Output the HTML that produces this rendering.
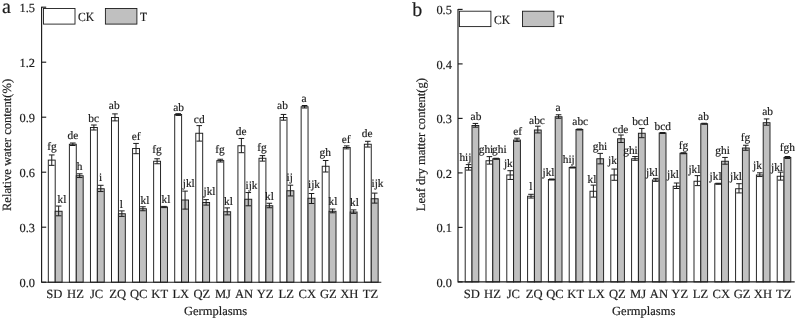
<!DOCTYPE html>
<html><head><meta charset="utf-8"><title>Figure</title>
<style>
html,body{margin:0;padding:0;background:#fff;}
body{width:796px;height:320px;overflow:hidden;font-family:"Liberation Serif",serif;}
svg{display:block;will-change:transform;opacity:0.999}
svg text{font-family:"Liberation Serif",serif;fill:#1c1c1c;text-rendering:geometricPrecision;stroke:#1c1c1c;stroke-width:0.18px;}
</style></head><body>
<svg width="796" height="320" viewBox="0 0 796 320">
<rect width="796" height="320" fill="#fff"/>
<rect x="48.3" y="160.1" width="6.9" height="122.1" fill="#ffffff" stroke="#1c1c1c" stroke-width="0.95"/>
<path d="M51.75 154.95V165.35M48.95 154.95H54.55M48.95 165.35H54.55" stroke="#1c1c1c" stroke-width="1.0" fill="none"/>
<rect x="55.2" y="211.25" width="6.9" height="70.95" fill="#c0c0c0" stroke="#1c1c1c" stroke-width="0.95"/>
<path d="M58.65 206.06V215.81M55.85 206.06H61.45M55.85 215.81H61.45" stroke="#1c1c1c" stroke-width="1.0" fill="none"/>
<rect x="69.37" y="144.25" width="6.9" height="137.95" fill="#ffffff" stroke="#1c1c1c" stroke-width="0.95"/>
<path d="M72.82 143V145.5M70.02 143H75.62M70.02 145.5H75.62" stroke="#1c1c1c" stroke-width="1.0" fill="none"/>
<rect x="76.27" y="175.75" width="6.9" height="106.45" fill="#c0c0c0" stroke="#1c1c1c" stroke-width="0.95"/>
<path d="M79.72 173.81V177.56M76.92 173.81H82.52M76.92 177.56H82.52" stroke="#1c1c1c" stroke-width="1.0" fill="none"/>
<rect x="90.44" y="127.5" width="6.9" height="154.7" fill="#ffffff" stroke="#1c1c1c" stroke-width="0.95"/>
<path d="M93.89 125V130M91.09 125H96.69M91.09 130H96.69" stroke="#1c1c1c" stroke-width="1.0" fill="none"/>
<rect x="97.34" y="188.75" width="6.9" height="93.45" fill="#c0c0c0" stroke="#1c1c1c" stroke-width="0.95"/>
<path d="M100.79 185.31V191.56M97.99 185.31H103.59M97.99 191.56H103.59" stroke="#1c1c1c" stroke-width="1.0" fill="none"/>
<rect x="111.51" y="117.5" width="6.9" height="164.7" fill="#ffffff" stroke="#1c1c1c" stroke-width="0.95"/>
<path d="M114.96 113.88V120.88M112.16 113.88H117.76M112.16 120.88H117.76" stroke="#1c1c1c" stroke-width="1.0" fill="none"/>
<rect x="118.41" y="213.75" width="6.9" height="68.45" fill="#c0c0c0" stroke="#1c1c1c" stroke-width="0.95"/>
<path d="M121.86 210.88V216.38M119.06 210.88H124.66M119.06 216.38H124.66" stroke="#1c1c1c" stroke-width="1.0" fill="none"/>
<rect x="132.58" y="148.5" width="6.9" height="133.7" fill="#ffffff" stroke="#1c1c1c" stroke-width="0.95"/>
<path d="M136.03 143.44V153.69M133.23 143.44H138.83M133.23 153.69H138.83" stroke="#1c1c1c" stroke-width="1.0" fill="none"/>
<rect x="139.48" y="208.75" width="6.9" height="73.45" fill="#c0c0c0" stroke="#1c1c1c" stroke-width="0.95"/>
<path d="M142.93 206.75V210.75M140.13 206.75H145.73M140.13 210.75H145.73" stroke="#1c1c1c" stroke-width="1.0" fill="none"/>
<rect x="153.65" y="161.25" width="6.9" height="120.95" fill="#ffffff" stroke="#1c1c1c" stroke-width="0.95"/>
<path d="M157.1 158.75V163.75M154.3 158.75H159.9M154.3 163.75H159.9" stroke="#1c1c1c" stroke-width="1.0" fill="none"/>
<rect x="160.55" y="207" width="6.9" height="75.2" fill="#c0c0c0" stroke="#1c1c1c" stroke-width="0.95"/>
<path d="M164 206.4V207.6M161.2 206.4H166.8M161.2 207.6H166.8" stroke="#1c1c1c" stroke-width="1.0" fill="none"/>
<rect x="174.72" y="114.5" width="6.9" height="167.7" fill="#ffffff" stroke="#1c1c1c" stroke-width="0.95"/>
<path d="M178.17 113.69V115.44M175.37 113.69H180.97M175.37 115.44H180.97" stroke="#1c1c1c" stroke-width="1.0" fill="none"/>
<rect x="181.62" y="200" width="6.9" height="82.2" fill="#c0c0c0" stroke="#1c1c1c" stroke-width="0.95"/>
<path d="M185.07 191.12V209.12M182.27 191.12H187.87M182.27 209.12H187.87" stroke="#1c1c1c" stroke-width="1.0" fill="none"/>
<rect x="195.79" y="133.25" width="6.9" height="148.95" fill="#ffffff" stroke="#1c1c1c" stroke-width="0.95"/>
<path d="M199.24 125.62V141.12M196.44 125.62H202.04M196.44 141.12H202.04" stroke="#1c1c1c" stroke-width="1.0" fill="none"/>
<rect x="202.69" y="202.5" width="6.9" height="79.7" fill="#c0c0c0" stroke="#1c1c1c" stroke-width="0.95"/>
<path d="M206.14 199.62V205.12M203.34 199.62H208.94M203.34 205.12H208.94" stroke="#1c1c1c" stroke-width="1.0" fill="none"/>
<rect x="216.86" y="160.6" width="6.9" height="121.6" fill="#ffffff" stroke="#1c1c1c" stroke-width="0.95"/>
<path d="M220.31 159.24V161.99M217.51 159.24H223.11M217.51 161.99H223.11" stroke="#1c1c1c" stroke-width="1.0" fill="none"/>
<rect x="223.76" y="211.75" width="6.9" height="70.45" fill="#c0c0c0" stroke="#1c1c1c" stroke-width="0.95"/>
<path d="M227.21 207.88V214.88M224.41 207.88H230.01M224.41 214.88H230.01" stroke="#1c1c1c" stroke-width="1.0" fill="none"/>
<rect x="237.93" y="145.75" width="6.9" height="136.45" fill="#ffffff" stroke="#1c1c1c" stroke-width="0.95"/>
<path d="M241.38 138.44V152.69M238.58 138.44H244.18M238.58 152.69H244.18" stroke="#1c1c1c" stroke-width="1.0" fill="none"/>
<rect x="244.83" y="199.25" width="6.9" height="82.95" fill="#c0c0c0" stroke="#1c1c1c" stroke-width="0.95"/>
<path d="M248.28 192.56V205.81M245.48 192.56H251.08M245.48 205.81H251.08" stroke="#1c1c1c" stroke-width="1.0" fill="none"/>
<rect x="259" y="158.25" width="6.9" height="123.95" fill="#ffffff" stroke="#1c1c1c" stroke-width="0.95"/>
<path d="M262.45 155.62V161.12M259.65 155.62H265.25M259.65 161.12H265.25" stroke="#1c1c1c" stroke-width="1.0" fill="none"/>
<rect x="265.9" y="205.75" width="6.9" height="76.45" fill="#c0c0c0" stroke="#1c1c1c" stroke-width="0.95"/>
<path d="M269.35 203.25V207.75M266.55 203.25H272.15M266.55 207.75H272.15" stroke="#1c1c1c" stroke-width="1.0" fill="none"/>
<rect x="280.07" y="117.5" width="6.9" height="164.7" fill="#ffffff" stroke="#1c1c1c" stroke-width="0.95"/>
<path d="M283.52 114.44V120.19M280.72 114.44H286.32M280.72 120.19H286.32" stroke="#1c1c1c" stroke-width="1.0" fill="none"/>
<rect x="286.97" y="190.75" width="6.9" height="91.45" fill="#c0c0c0" stroke="#1c1c1c" stroke-width="0.95"/>
<path d="M290.42 185.19V195.94M287.62 185.19H293.22M287.62 195.94H293.22" stroke="#1c1c1c" stroke-width="1.0" fill="none"/>
<rect x="301.14" y="106.75" width="6.9" height="175.45" fill="#ffffff" stroke="#1c1c1c" stroke-width="0.95"/>
<path d="M304.59 105.5V108M301.79 105.5H307.39M301.79 108H307.39" stroke="#1c1c1c" stroke-width="1.0" fill="none"/>
<rect x="308.04" y="198.25" width="6.9" height="83.95" fill="#c0c0c0" stroke="#1c1c1c" stroke-width="0.95"/>
<path d="M311.49 193.5V203.5M308.69 193.5H314.29M308.69 203.5H314.29" stroke="#1c1c1c" stroke-width="1.0" fill="none"/>
<rect x="322.21" y="166.25" width="6.9" height="115.95" fill="#ffffff" stroke="#1c1c1c" stroke-width="0.95"/>
<path d="M325.66 160.5V172M322.86 160.5H328.46M322.86 172H328.46" stroke="#1c1c1c" stroke-width="1.0" fill="none"/>
<rect x="329.11" y="211.25" width="6.9" height="70.95" fill="#c0c0c0" stroke="#1c1c1c" stroke-width="0.95"/>
<path d="M332.56 209.06V212.81M329.76 209.06H335.36M329.76 212.81H335.36" stroke="#1c1c1c" stroke-width="1.0" fill="none"/>
<rect x="343.28" y="147.5" width="6.9" height="134.7" fill="#ffffff" stroke="#1c1c1c" stroke-width="0.95"/>
<path d="M346.73 145.88V148.88M343.93 145.88H349.53M343.93 148.88H349.53" stroke="#1c1c1c" stroke-width="1.0" fill="none"/>
<rect x="350.18" y="212" width="6.9" height="70.2" fill="#c0c0c0" stroke="#1c1c1c" stroke-width="0.95"/>
<path d="M353.63 209.88V213.38M350.83 209.88H356.43M350.83 213.38H356.43" stroke="#1c1c1c" stroke-width="1.0" fill="none"/>
<rect x="364.35" y="144.25" width="6.9" height="137.95" fill="#ffffff" stroke="#1c1c1c" stroke-width="0.95"/>
<path d="M367.8 141.31V147.06M365 141.31H370.6M365 147.06H370.6" stroke="#1c1c1c" stroke-width="1.0" fill="none"/>
<rect x="371.25" y="198.75" width="6.9" height="83.45" fill="#c0c0c0" stroke="#1c1c1c" stroke-width="0.95"/>
<path d="M374.7 193.12V203.12M371.9 193.12H377.5M371.9 203.12H377.5" stroke="#1c1c1c" stroke-width="1.0" fill="none"/>
<path d="M41.6 6.7V282.2H381.3" stroke="#1c1c1c" stroke-width="1.15" fill="none" stroke-linejoin="miter"/>
<path d="M41.6 282.2h4.6" stroke="#1c1c1c" stroke-width="1.15"/>
<text x="35" y="287.2" font-size="12.4" text-anchor="end">0.0</text>
<path d="M41.6 227.2h4.6" stroke="#1c1c1c" stroke-width="1.15"/>
<text x="35" y="232.2" font-size="12.4" text-anchor="end">0.3</text>
<path d="M41.6 172.2h4.6" stroke="#1c1c1c" stroke-width="1.15"/>
<text x="35" y="177.2" font-size="12.4" text-anchor="end">0.6</text>
<path d="M41.6 117.2h4.6" stroke="#1c1c1c" stroke-width="1.15"/>
<text x="35" y="122.2" font-size="12.4" text-anchor="end">0.9</text>
<path d="M41.6 62.2h4.6" stroke="#1c1c1c" stroke-width="1.15"/>
<text x="35" y="67.2" font-size="12.4" text-anchor="end">1.2</text>
<path d="M41.6 7.2h4.6" stroke="#1c1c1c" stroke-width="1.15"/>
<text x="35" y="12.2" font-size="12.4" text-anchor="end">1.5</text>
<text x="54.4" y="297.5" font-size="12.6" text-anchor="middle">SD</text>
<text x="75.47" y="297.5" font-size="12.6" text-anchor="middle">HZ</text>
<text x="96.54" y="297.5" font-size="12.6" text-anchor="middle">JC</text>
<text x="117.61" y="297.5" font-size="12.6" text-anchor="middle">ZQ</text>
<text x="138.68" y="297.5" font-size="12.6" text-anchor="middle">QC</text>
<text x="159.75" y="297.5" font-size="12.6" text-anchor="middle">KT</text>
<text x="180.82" y="297.5" font-size="12.6" text-anchor="middle">LX</text>
<text x="201.89" y="297.5" font-size="12.6" text-anchor="middle">QZ</text>
<text x="222.96" y="297.5" font-size="12.6" text-anchor="middle">MJ</text>
<text x="244.03" y="297.5" font-size="12.6" text-anchor="middle">AN</text>
<text x="265.1" y="297.5" font-size="12.6" text-anchor="middle">YZ</text>
<text x="286.17" y="297.5" font-size="12.6" text-anchor="middle">LZ</text>
<text x="307.24" y="297.5" font-size="12.6" text-anchor="middle">CX</text>
<text x="328.31" y="297.5" font-size="12.6" text-anchor="middle">GZ</text>
<text x="349.38" y="297.5" font-size="12.6" text-anchor="middle">XH</text>
<text x="370.45" y="297.5" font-size="12.6" text-anchor="middle">TZ</text>
<text x="215.6" y="314.6" font-size="12.5" text-anchor="middle">Germplasms</text>
<text transform="translate(11.3 145) rotate(-90)" font-size="12.6" text-anchor="middle">Relative water content(%)</text>
<text x="2" y="12.6" font-size="20">a</text>
<rect x="43.5" y="8.5" width="31.5" height="15.6" fill="#fff" stroke="#1c1c1c" stroke-width="0.9"/>
<text transform="translate(78 21) scale(0.93 1)" font-size="12.5">CK</text>
<rect x="105.4" y="8.5" width="31.5" height="15.6" fill="#c0c0c0" stroke="#1c1c1c" stroke-width="0.9"/>
<text transform="translate(139.9 21) scale(0.93 1)" font-size="12.5">T</text>
<text x="52" y="150.4" font-size="11.4" text-anchor="middle">fg</text>
<text x="73" y="138.8" font-size="11.4" text-anchor="middle">de</text>
<text x="93.75" y="122" font-size="11.4" text-anchor="middle">bc</text>
<text x="114.25" y="108.75" font-size="11.4" text-anchor="middle">ab</text>
<text x="136.25" y="140" font-size="11.4" text-anchor="middle">ef</text>
<text x="157" y="153.3" font-size="11.4" text-anchor="middle">fg</text>
<text x="178.7" y="111.25" font-size="11.4" text-anchor="middle">ab</text>
<text x="199.25" y="123.25" font-size="11.4" text-anchor="middle">cd</text>
<text x="220" y="153.3" font-size="11.4" text-anchor="middle">fg</text>
<text x="241.25" y="135" font-size="11.4" text-anchor="middle">de</text>
<text x="262" y="150.5" font-size="11.4" text-anchor="middle">fg</text>
<text x="282.5" y="109.25" font-size="11.4" text-anchor="middle">ab</text>
<text x="304" y="102" font-size="11.4" text-anchor="middle">a</text>
<text x="325.25" y="155.7" font-size="11.4" text-anchor="middle">gh</text>
<text x="346.25" y="142.5" font-size="11.4" text-anchor="middle">ef</text>
<text x="367.25" y="137" font-size="11.4" text-anchor="middle">de</text>
<text x="62" y="203" font-size="11.4" text-anchor="middle">kl</text>
<text x="79.5" y="170" font-size="11.4" text-anchor="middle">h</text>
<text x="100.5" y="181.25" font-size="11.4" text-anchor="middle">i</text>
<text x="121.25" y="207.5" font-size="11.4" text-anchor="middle">l</text>
<text x="145" y="204.25" font-size="11.4" text-anchor="middle">kl</text>
<text x="166" y="202.5" font-size="11.4" text-anchor="middle">kl</text>
<text x="188.75" y="187" font-size="11.4" text-anchor="middle">jkl</text>
<text x="209.5" y="195" font-size="11.4" text-anchor="middle">jkl</text>
<text x="228.5" y="205" font-size="11.4" text-anchor="middle">kl</text>
<text x="251.5" y="188.75" font-size="11.4" text-anchor="middle">ijk</text>
<text x="269.5" y="200" font-size="11.4" text-anchor="middle">kl</text>
<text x="289.75" y="181.25" font-size="11.4" text-anchor="middle">ij</text>
<text x="314" y="188.25" font-size="11.4" text-anchor="middle">ijk</text>
<text x="333" y="205" font-size="11.4" text-anchor="middle">kl</text>
<text x="354.5" y="205.75" font-size="11.4" text-anchor="middle">kl</text>
<text x="377.5" y="186.75" font-size="11.4" text-anchor="middle">ijk</text>
<rect x="465.2" y="167.5" width="6.8" height="114.4" fill="#ffffff" stroke="#1c1c1c" stroke-width="0.95"/>
<path d="M468.6 164.62V170.12M465.8 164.62H471.4M465.8 170.12H471.4" stroke="#1c1c1c" stroke-width="1.0" fill="none"/>
<rect x="472" y="125.5" width="6.8" height="156.4" fill="#c0c0c0" stroke="#1c1c1c" stroke-width="0.95"/>
<path d="M475.4 123.44V127.19M472.6 123.44H478.2M472.6 127.19H478.2" stroke="#1c1c1c" stroke-width="1.0" fill="none"/>
<rect x="486" y="160.75" width="6.8" height="121.15" fill="#ffffff" stroke="#1c1c1c" stroke-width="0.95"/>
<path d="M489.4 156.62V164.12M486.6 156.62H492.2M486.6 164.12H492.2" stroke="#1c1c1c" stroke-width="1.0" fill="none"/>
<rect x="492.8" y="158.75" width="6.8" height="123.15" fill="#c0c0c0" stroke="#1c1c1c" stroke-width="0.95"/>
<path d="M496.2 158.25V159.25M493.4 158.25H499M493.4 159.25H499" stroke="#1c1c1c" stroke-width="1.0" fill="none"/>
<rect x="506.8" y="175" width="6.8" height="106.9" fill="#ffffff" stroke="#1c1c1c" stroke-width="0.95"/>
<path d="M510.2 170.69V179.44M507.4 170.69H513M507.4 179.44H513" stroke="#1c1c1c" stroke-width="1.0" fill="none"/>
<rect x="513.6" y="140" width="6.8" height="141.9" fill="#c0c0c0" stroke="#1c1c1c" stroke-width="0.95"/>
<path d="M517 138.19V141.44M514.2 138.19H519.8M514.2 141.44H519.8" stroke="#1c1c1c" stroke-width="1.0" fill="none"/>
<rect x="527.6" y="196.25" width="6.8" height="85.65" fill="#ffffff" stroke="#1c1c1c" stroke-width="0.95"/>
<path d="M531 194.31V198.06M528.2 194.31H533.8M528.2 198.06H533.8" stroke="#1c1c1c" stroke-width="1.0" fill="none"/>
<rect x="534.4" y="130" width="6.8" height="151.9" fill="#c0c0c0" stroke="#1c1c1c" stroke-width="0.95"/>
<path d="M537.8 126.19V132.94M535 126.19H540.6M535 132.94H540.6" stroke="#1c1c1c" stroke-width="1.0" fill="none"/>
<rect x="548.4" y="179.5" width="6.8" height="102.4" fill="#ffffff" stroke="#1c1c1c" stroke-width="0.95"/>
<path d="M551.8 179V180M549 179H554.6M549 180H554.6" stroke="#1c1c1c" stroke-width="1.0" fill="none"/>
<rect x="555.2" y="116.75" width="6.8" height="165.15" fill="#c0c0c0" stroke="#1c1c1c" stroke-width="0.95"/>
<path d="M558.6 114.75V118.25M555.8 114.75H561.4M555.8 118.25H561.4" stroke="#1c1c1c" stroke-width="1.0" fill="none"/>
<rect x="569.2" y="167.5" width="6.8" height="114.4" fill="#ffffff" stroke="#1c1c1c" stroke-width="0.95"/>
<path d="M572.6 167V168M569.8 167H575.4M569.8 168H575.4" stroke="#1c1c1c" stroke-width="1.0" fill="none"/>
<rect x="576" y="129.5" width="6.8" height="152.4" fill="#c0c0c0" stroke="#1c1c1c" stroke-width="0.95"/>
<path d="M579.4 129V130M576.6 129H582.2M576.6 130H582.2" stroke="#1c1c1c" stroke-width="1.0" fill="none"/>
<rect x="590" y="191.25" width="6.8" height="90.65" fill="#ffffff" stroke="#1c1c1c" stroke-width="0.95"/>
<path d="M593.4 185.12V197.12M590.6 185.12H596.2M590.6 197.12H596.2" stroke="#1c1c1c" stroke-width="1.0" fill="none"/>
<rect x="596.8" y="158.75" width="6.8" height="123.15" fill="#c0c0c0" stroke="#1c1c1c" stroke-width="0.95"/>
<path d="M600.2 153.38V163.88M597.4 153.38H603M597.4 163.88H603" stroke="#1c1c1c" stroke-width="1.0" fill="none"/>
<rect x="610.8" y="175" width="6.8" height="106.9" fill="#ffffff" stroke="#1c1c1c" stroke-width="0.95"/>
<path d="M614.2 169.06V180.31M611.4 169.06H617M611.4 180.31H617" stroke="#1c1c1c" stroke-width="1.0" fill="none"/>
<rect x="617.6" y="138.75" width="6.8" height="143.15" fill="#c0c0c0" stroke="#1c1c1c" stroke-width="0.95"/>
<path d="M621 135V142.5M618.2 135H623.8M618.2 142.5H623.8" stroke="#1c1c1c" stroke-width="1.0" fill="none"/>
<rect x="631.6" y="158.75" width="6.8" height="123.15" fill="#ffffff" stroke="#1c1c1c" stroke-width="0.95"/>
<path d="M635 156.56V160.31M632.2 156.56H637.8M632.2 160.31H637.8" stroke="#1c1c1c" stroke-width="1.0" fill="none"/>
<rect x="638.4" y="133.25" width="6.8" height="148.65" fill="#c0c0c0" stroke="#1c1c1c" stroke-width="0.95"/>
<path d="M641.8 128.44V137.69M639 128.44H644.6M639 137.69H644.6" stroke="#1c1c1c" stroke-width="1.0" fill="none"/>
<rect x="652.4" y="180" width="6.8" height="101.9" fill="#ffffff" stroke="#1c1c1c" stroke-width="0.95"/>
<path d="M655.8 178.38V181.38M653 178.38H658.6M653 181.38H658.6" stroke="#1c1c1c" stroke-width="1.0" fill="none"/>
<rect x="659.2" y="133" width="6.8" height="148.9" fill="#c0c0c0" stroke="#1c1c1c" stroke-width="0.95"/>
<path d="M662.6 132.5V133.5M659.8 132.5H665.4M659.8 133.5H665.4" stroke="#1c1c1c" stroke-width="1.0" fill="none"/>
<rect x="673.2" y="186.25" width="6.8" height="95.65" fill="#ffffff" stroke="#1c1c1c" stroke-width="0.95"/>
<path d="M676.6 183V188.5M673.8 183H679.4M673.8 188.5H679.4" stroke="#1c1c1c" stroke-width="1.0" fill="none"/>
<rect x="680" y="153.25" width="6.8" height="128.65" fill="#c0c0c0" stroke="#1c1c1c" stroke-width="0.95"/>
<path d="M683.4 152.75V153.75M680.6 152.75H686.2M680.6 153.75H686.2" stroke="#1c1c1c" stroke-width="1.0" fill="none"/>
<rect x="694" y="181.25" width="6.8" height="100.65" fill="#ffffff" stroke="#1c1c1c" stroke-width="0.95"/>
<path d="M697.4 175.62V185.62M694.6 175.62H700.2M694.6 185.62H700.2" stroke="#1c1c1c" stroke-width="1.0" fill="none"/>
<rect x="700.8" y="123.75" width="6.8" height="158.15" fill="#c0c0c0" stroke="#1c1c1c" stroke-width="0.95"/>
<path d="M704.2 123.25V124.25M701.4 123.25H707M701.4 124.25H707" stroke="#1c1c1c" stroke-width="1.0" fill="none"/>
<rect x="714.8" y="183.75" width="6.8" height="98.15" fill="#ffffff" stroke="#1c1c1c" stroke-width="0.95"/>
<path d="M718.2 183.25V184.25M715.4 183.25H721M715.4 184.25H721" stroke="#1c1c1c" stroke-width="1.0" fill="none"/>
<rect x="721.6" y="161.25" width="6.8" height="120.65" fill="#c0c0c0" stroke="#1c1c1c" stroke-width="0.95"/>
<path d="M725 157.44V164.19M722.2 157.44H727.8M722.2 164.19H727.8" stroke="#1c1c1c" stroke-width="1.0" fill="none"/>
<rect x="735.6" y="188.75" width="6.8" height="93.15" fill="#ffffff" stroke="#1c1c1c" stroke-width="0.95"/>
<path d="M739 183.69V192.94M736.2 183.69H741.8M736.2 192.94H741.8" stroke="#1c1c1c" stroke-width="1.0" fill="none"/>
<rect x="742.4" y="148" width="6.8" height="133.9" fill="#c0c0c0" stroke="#1c1c1c" stroke-width="0.95"/>
<path d="M745.8 145.25V150.25M743 145.25H748.6M743 150.25H748.6" stroke="#1c1c1c" stroke-width="1.0" fill="none"/>
<rect x="756.4" y="175" width="6.8" height="106.9" fill="#ffffff" stroke="#1c1c1c" stroke-width="0.95"/>
<path d="M759.8 172.81V176.56M757 172.81H762.6M757 176.56H762.6" stroke="#1c1c1c" stroke-width="1.0" fill="none"/>
<rect x="763.2" y="122.7" width="6.8" height="159.2" fill="#c0c0c0" stroke="#1c1c1c" stroke-width="0.95"/>
<path d="M766.6 118.93V125.22M763.8 118.93H769.4M763.8 125.22H769.4" stroke="#1c1c1c" stroke-width="1.0" fill="none"/>
<rect x="777.2" y="176.25" width="6.8" height="105.65" fill="#ffffff" stroke="#1c1c1c" stroke-width="0.95"/>
<path d="M780.6 172.12V180.12M777.8 172.12H783.4M777.8 180.12H783.4" stroke="#1c1c1c" stroke-width="1.0" fill="none"/>
<rect x="784" y="157.5" width="6.8" height="124.4" fill="#c0c0c0" stroke="#1c1c1c" stroke-width="0.95"/>
<path d="M787.4 156.5V158.5M784.6 156.5H790.2M784.6 158.5H790.2" stroke="#1c1c1c" stroke-width="1.0" fill="none"/>
<path d="M458 8.9V281.9H794.7" stroke="#1c1c1c" stroke-width="1.15" fill="none" stroke-linejoin="miter"/>
<path d="M458 281.9h4.6" stroke="#1c1c1c" stroke-width="1.15"/>
<text x="451.9" y="286.9" font-size="12.4" text-anchor="end">0.0</text>
<path d="M458 227.4h4.6" stroke="#1c1c1c" stroke-width="1.15"/>
<text x="451.9" y="232.4" font-size="12.4" text-anchor="end">0.1</text>
<path d="M458 172.9h4.6" stroke="#1c1c1c" stroke-width="1.15"/>
<text x="451.9" y="177.9" font-size="12.4" text-anchor="end">0.2</text>
<path d="M458 118.4h4.6" stroke="#1c1c1c" stroke-width="1.15"/>
<text x="451.9" y="123.4" font-size="12.4" text-anchor="end">0.3</text>
<path d="M458 63.9h4.6" stroke="#1c1c1c" stroke-width="1.15"/>
<text x="451.9" y="68.9" font-size="12.4" text-anchor="end">0.4</text>
<path d="M458 9.4h4.6" stroke="#1c1c1c" stroke-width="1.15"/>
<text x="451.9" y="14.4" font-size="12.4" text-anchor="end">0.5</text>
<text x="471.7" y="297.5" font-size="12.6" text-anchor="middle">SD</text>
<text x="492.5" y="297.5" font-size="12.6" text-anchor="middle">HZ</text>
<text x="513.3" y="297.5" font-size="12.6" text-anchor="middle">JC</text>
<text x="534.1" y="297.5" font-size="12.6" text-anchor="middle">ZQ</text>
<text x="554.9" y="297.5" font-size="12.6" text-anchor="middle">QC</text>
<text x="575.7" y="297.5" font-size="12.6" text-anchor="middle">KT</text>
<text x="596.5" y="297.5" font-size="12.6" text-anchor="middle">LX</text>
<text x="617.3" y="297.5" font-size="12.6" text-anchor="middle">QZ</text>
<text x="638.1" y="297.5" font-size="12.6" text-anchor="middle">MJ</text>
<text x="658.9" y="297.5" font-size="12.6" text-anchor="middle">AN</text>
<text x="679.7" y="297.5" font-size="12.6" text-anchor="middle">YZ</text>
<text x="700.5" y="297.5" font-size="12.6" text-anchor="middle">LZ</text>
<text x="721.3" y="297.5" font-size="12.6" text-anchor="middle">CX</text>
<text x="742.1" y="297.5" font-size="12.6" text-anchor="middle">GZ</text>
<text x="762.9" y="297.5" font-size="12.6" text-anchor="middle">XH</text>
<text x="783.7" y="297.5" font-size="12.6" text-anchor="middle">TZ</text>
<text x="643.7" y="314.6" font-size="12.5" text-anchor="middle">Germplasms</text>
<text transform="translate(425 144.6) rotate(-90)" font-size="12.6" text-anchor="middle">Leaf dry matter content(g)</text>
<text x="412.2" y="15.7" font-size="20">b</text>
<rect x="459.4" y="11.2" width="31.5" height="15.4" fill="#fff" stroke="#1c1c1c" stroke-width="0.9"/>
<text transform="translate(493.9 23.6) scale(0.93 1)" font-size="12.5">CK</text>
<rect x="522.5" y="11.2" width="31.4" height="15.4" fill="#c0c0c0" stroke="#1c1c1c" stroke-width="0.9"/>
<text transform="translate(556.9 23.6) scale(0.93 1)" font-size="12.5">T</text>
<text x="465.4" y="160.75" font-size="11.4" text-anchor="middle">hij</text>
<text x="486" y="153" font-size="11.4" text-anchor="middle">ghi</text>
<text x="508.4" y="167.3" font-size="11.4" text-anchor="middle">jk</text>
<text x="530.75" y="190" font-size="11.4" text-anchor="middle">l</text>
<text x="548.5" y="175.5" font-size="11.4" text-anchor="middle">jkl</text>
<text x="568.75" y="162.5" font-size="11.4" text-anchor="middle">hij</text>
<text x="592" y="182.5" font-size="11.4" text-anchor="middle">kl</text>
<text x="612.5" y="163.75" font-size="11.4" text-anchor="middle">jk</text>
<text x="630.5" y="154" font-size="11.4" text-anchor="middle">ghi</text>
<text x="652" y="176.25" font-size="11.4" text-anchor="middle">jkl</text>
<text x="673" y="178.25" font-size="11.4" text-anchor="middle">jkl</text>
<text x="694.4" y="172.5" font-size="11.4" text-anchor="middle">jkl</text>
<text x="715.6" y="179.5" font-size="11.4" text-anchor="middle">jkl</text>
<text x="736" y="179.5" font-size="11.4" text-anchor="middle">jkl</text>
<text x="757.5" y="168.75" font-size="11.4" text-anchor="middle">jk</text>
<text x="777" y="170.75" font-size="11.4" text-anchor="middle">jkl</text>
<text x="476" y="120.4" font-size="11.4" text-anchor="middle">ab</text>
<text x="499.4" y="153" font-size="11.4" text-anchor="middle">ghi</text>
<text x="517.75" y="135" font-size="11.4" text-anchor="middle">ef</text>
<text x="537" y="124" font-size="11.4" text-anchor="middle">abc</text>
<text x="558" y="110.75" font-size="11.4" text-anchor="middle">a</text>
<text x="580.25" y="125" font-size="11.4" text-anchor="middle">abc</text>
<text x="600" y="150" font-size="11.4" text-anchor="middle">ghi</text>
<text x="620.5" y="132.5" font-size="11.4" text-anchor="middle">cde</text>
<text x="640.4" y="125" font-size="11.4" text-anchor="middle">bcd</text>
<text x="662.75" y="129.5" font-size="11.4" text-anchor="middle">bcd</text>
<text x="683.5" y="148.75" font-size="11.4" text-anchor="middle">fg</text>
<text x="703.5" y="119.5" font-size="11.4" text-anchor="middle">ab</text>
<text x="722.6" y="153.5" font-size="11.4" text-anchor="middle">ghi</text>
<text x="745.4" y="141" font-size="11.4" text-anchor="middle">fg</text>
<text x="767.6" y="114.5" font-size="11.4" text-anchor="middle">ab</text>
<text x="787.4" y="151" font-size="11.4" text-anchor="middle">fgh</text>
</svg>
</body></html>
